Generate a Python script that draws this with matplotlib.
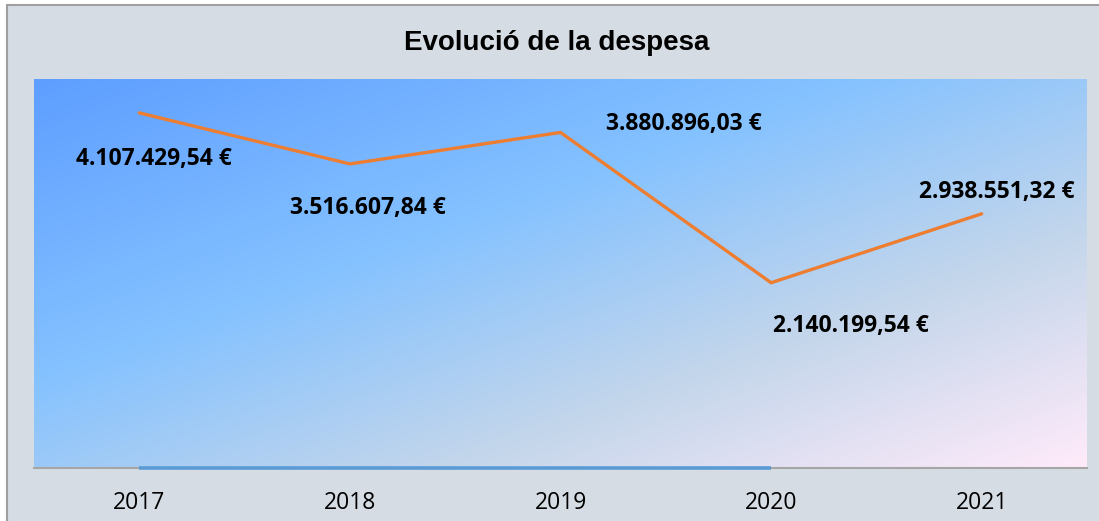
import numpy as np
import matplotlib
matplotlib.use("Agg")
import matplotlib.pyplot as plt
from matplotlib.colors import LinearSegmentedColormap
from matplotlib.patches import Rectangle

# ---- data ----
years = ["2017", "2018", "2019", "2020", "2021"]
despesa = [4107429.54, 3516607.84, 3880896.03, 2140199.54, 2938551.32]
serie_blava = [0, 0, 0, 0, None]
labels = ["4.107.429,54 €", "3.516.607,84 €", "3.880.896,03 €", "2.140.199,54 €", "2.938.551,32 €"]
title = "Evolució de la despesa"

W, H = 1099, 521
fig = plt.figure(figsize=(W / 100, H / 100), dpi=100)
fig.patch.set_facecolor("white")

# chart area background with border
bg = Rectangle((7 / W, -0.1), 1.2, (521 - 5) / H + 0.1, transform=fig.transFigure,
               facecolor="#D6DCE4", edgecolor="#A0A0A0", linewidth=1.5, zorder=-10)
fig.patches.append(bg)

ax = fig.add_axes([34 / W, 1 - 467.5 / H, (1087 - 34) / W, (467.5 - 79) / H])
ax.set_zorder(1)
ax.set_facecolor("none")

# Daybreak-like gradient in axes coordinates
cmap = LinearSegmentedColormap.from_list(
    "daybreak",
    [(0.0, "#5E9EFF"), (0.39, "#85C2FF"), (0.70, "#C4D6EB"), (1.0, "#FFEBFA")])
nx, ny = 400, 200
gx = np.linspace(0, 1, nx)
gy = np.linspace(0, 1, ny)
GX, GY = np.meshgrid(gx, gy)
T = (GX + GY) / 2.0  # top-left = 0, bottom-right = 1 (row 0 at top)
ax.imshow(T, cmap=cmap, vmin=0, vmax=1, extent=[0, 1, 0, 1], origin="upper",
          transform=ax.transAxes, aspect="auto", zorder=0, interpolation="bilinear")

x = np.arange(len(years))
ax.plot(x, despesa, color="#ED7D31", linewidth=2.4, solid_capstyle="round",
        solid_joinstyle="miter", zorder=3)
blue = np.array([np.nan if v is None else v for v in serie_blava], dtype=float)
ax.plot(x, blue, color="#5B9BD5", linewidth=2.6, solid_capstyle="butt", zorder=4,
        clip_on=False)

ax.set_xlim(-0.5, len(years) - 0.5)
ax.set_ylim(0, 4500000)

for s in ["top", "right", "left"]:
    ax.spines[s].set_visible(False)
ax.spines["bottom"].set_color("#A6A6A6")
ax.spines["bottom"].set_linewidth(1.5)
ax.spines["bottom"].set_zorder(2)
ax.set_yticks([])
ax.set_xticks(x)
ax.set_xticklabels(years, fontfamily="Open Sans", fontsize=16.5, color="#000000")
ax.tick_params(axis="x", length=0, pad=17)

# data labels (offsets in points)
offsets = [(10.5, -33.3), (13, -31.5), (88.5, 6), (57.3, -31), (10.5, 16)]
for xi, yi, lab, off in zip(x, despesa, labels, offsets):
    ax.annotate(lab, (xi, yi), xytext=off, textcoords="offset points",
                ha="center", va="center", fontfamily="Open Sans", fontweight="bold",
                fontsize=16.5, color="#000000", zorder=5, annotation_clip=False)

fig.text(557 / W, 1 - 43 / H, title, ha="center", va="center",
         fontfamily="Liberation Sans", fontweight="bold", fontsize=20, color="#000000")

fig.savefig("out.png", dpi=100)
